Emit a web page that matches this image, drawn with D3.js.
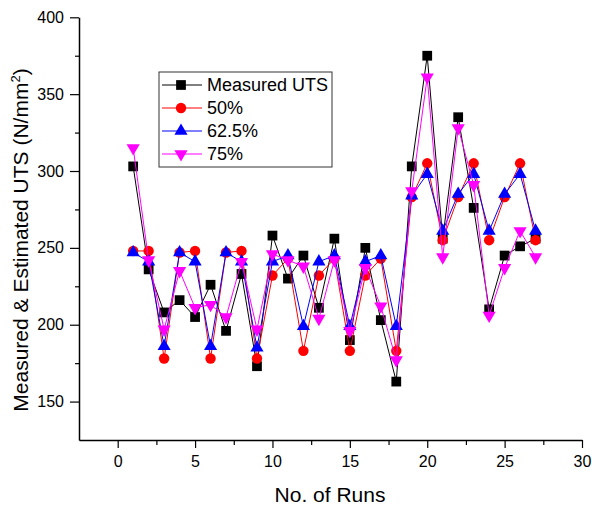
<!DOCTYPE html>
<html>
<head>
<meta charset="utf-8">
<script src="https://cdn.jsdelivr.net/npm/d3@7"></script>
<style>
  body { margin: 0; background: #fff; }
  text { font-family: Arial, "Liberation Sans", sans-serif; fill: #000; }
</style>
</head>
<body>
<div id="chart"></div>
<script>
// Run numbers and UTS values
const runs = [1, 2, 3, 4, 5, 6, 7, 8, 9, 10, 11, 12, 13, 14, 15, 16, 17, 18, 19, 20, 21, 22, 23, 24, 25, 26, 27];
const measuredUTS = [303, 236, 208, 216, 205, 226, 196, 233, 173, 258, 230, 245, 211, 256, 190, 250, 203, 163, 303, 375, 256, 335, 276, 210, 245, 251, 256];
const est50 = [248, 248, 178, 247, 248, 178, 247, 248, 178, 232, 243, 183, 232, 243, 183, 232, 243, 183, 283, 305, 255, 283, 305, 255, 283, 305, 255];
const est625 = [247, 241, 186, 247, 241, 186, 247, 241, 185, 241, 245, 199, 241, 245, 199, 241, 245, 199, 284, 298, 261, 285, 298, 261, 285, 298, 261];
const est75 = [315, 242, 197, 235, 211, 213, 205, 241, 197, 246, 242, 238, 204, 242, 196, 237, 212, 177, 287, 361, 244, 328, 291, 206, 237, 261, 244];

const seriesNames = ["Measured UTS", "50%", "62.5%", "75%"];
const xTicks = [0, 5, 10, 15, 20, 25, 30];
const yTicks = [150, 200, 250, 300, 350, 400];

const seriesList = [
    { name: seriesNames[0], values: measuredUTS, color: "#000000", symbol: d3.symbolSquare, size: 95, rot: 0 },
    { name: seriesNames[1], values: est50, color: "#ff0000", symbol: d3.symbolCircle, size: 85, rot: 0 },
    { name: seriesNames[2], values: est625, color: "#0000ff", symbol: d3.symbolTriangle, size: 75, rot: 0 },
    { name: seriesNames[3], values: est75, color: "#ff00ff", symbol: d3.symbolTriangle, size: 75, rot: 180 }
];

const width = 592, height = 511;

const svg = d3.select("#chart").append("svg")
    .attr("width", width)
    .attr("height", height);

// Scales
const x = d3.scaleLinear().domain([-2.5, 30]).range([79, 582]);
const y = d3.scaleLinear().domain([125, 400]).range([440, 17.3]);

// X axis with major and minor ticks
const xMinor = d3.range(2.5, 30, 5);
svg.append("g")
    .attr("transform", "translate(0,440)")
    .call(d3.axisBottom(x).tickValues(xMinor).tickSize(5).tickFormat(""))
    .call(g => g.select(".domain").remove())
    .selectAll("line").attr("stroke", "#000").attr("stroke-width", 1.2);

const xAxis = svg.append("g")
    .attr("transform", "translate(0,440)")
    .call(d3.axisBottom(x).tickValues(xTicks).tickSize(8).tickPadding(8).tickSizeOuter(0));
xAxis.selectAll("text").style("font-size", "16px").attr("fill", "#000");
xAxis.selectAll("line").attr("stroke", "#000").attr("stroke-width", 1.2);
xAxis.select(".domain").attr("stroke", "#000").attr("stroke-width", 1.5);

// Y axis
const yMinor = d3.range(175, 400, 50);
svg.append("g")
    .attr("transform", "translate(79,0)")
    .call(d3.axisLeft(y).tickValues(yMinor).tickSize(4).tickFormat(""))
    .call(g => g.select(".domain").remove())
    .selectAll("line").attr("stroke", "#000").attr("stroke-width", 1.2);

const yAxis = svg.append("g")
    .attr("transform", "translate(79,0)")
    .call(d3.axisLeft(y).tickValues(yTicks).tickSize(9).tickPadding(6).tickSizeOuter(0));
yAxis.selectAll("text").style("font-size", "16px").attr("fill", "#000");
yAxis.selectAll("line").attr("stroke", "#000").attr("stroke-width", 1.2);
yAxis.select(".domain").attr("stroke", "#000").attr("stroke-width", 1.5);

// Axis titles
svg.append("text")
    .attr("x", 330)
    .attr("y", 502)
    .attr("text-anchor", "middle")
    .style("font-size", "21px")
    .text("No. of Runs");

const yTitle = svg.append("text")
    .attr("transform", "translate(28,240) rotate(-90)")
    .attr("text-anchor", "middle")
    .style("font-size", "21px");
yTitle.append("tspan").text("Measured & Estimated UTS (N/mm");
yTitle.append("tspan").attr("dy", -8).style("font-size", "13px").text("2");
yTitle.append("tspan").attr("dy", 8).text(")");

// Lines and markers, one series at a time
const line = d3.line()
    .x((d, i) => x(runs[i]))
    .y(d => y(d));

seriesList.forEach(s => {
    svg.append("path")
        .datum(s.values)
        .attr("fill", "none")
        .attr("stroke", s.color)
        .attr("stroke-width", 1)
        .attr("d", line);

    svg.selectAll(null)
        .data(s.values)
        .enter().append("path")
        .attr("d", d3.symbol().type(s.symbol).size(s.size))
        .attr("transform", (d, i) => "translate(" + x(runs[i]) + "," + y(d) + ") rotate(" + s.rot + ")")
        .attr("fill", s.color);
});

// Legend
const legend = svg.append("g").attr("transform", "translate(159,72)");

legend.append("rect")
    .attr("width", 173)
    .attr("height", 95)
    .attr("fill", "#fff")
    .attr("stroke", "#333")
    .attr("stroke-width", 1);

seriesList.forEach((s, i) => {
    const ly = 13 + i * 23;
    legend.append("line")
        .attr("x1", 3).attr("x2", 43)
        .attr("y1", ly).attr("y2", ly)
        .attr("stroke", s.color)
        .attr("stroke-width", 1);
    legend.append("path")
        .attr("d", d3.symbol().type(s.symbol).size(s.size))
        .attr("transform", "translate(22," + ly + ") rotate(" + s.rot + ")")
        .attr("fill", s.color);
    legend.append("text")
        .attr("x", 48)
        .attr("y", ly)
        .attr("dy", "0.35em")
        .style("font-size", "18px")
        .text(s.name);
});
</script>
</body>
</html>
